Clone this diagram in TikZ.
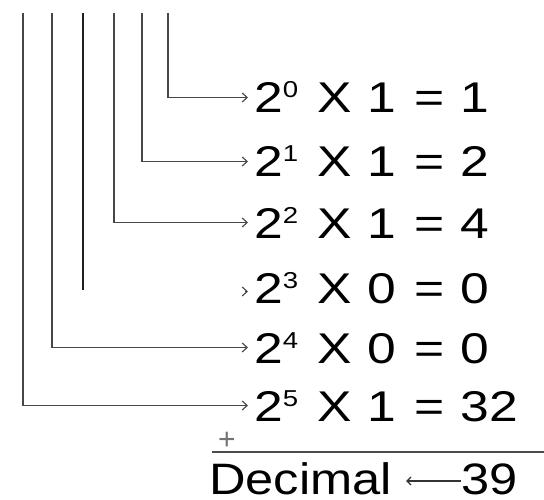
\documentclass[tikz,border=0pt]{standalone}
\usepackage{fontspec}
\setmainfont{Liberation Sans}
\newfontfamily\rowfont[FakeStretch=1.2]{Liberation Sans}
\newfontfamily\decfont[FakeStretch=1.15]{Liberation Sans}
\usetikzlibrary{arrows.meta}
\newcommand\prow[3]{2\raisebox{15pt}{\fontsize{23}{23}\selectfont #1}\hspace{19pt}X\hspace{16pt}#2\hspace{18pt}=\hspace{16pt}#3}
\begin{document}
\begin{tikzpicture}[x=1pt,y=-1pt,
  wire/.style={draw=black!72,line width=1.8pt},
  arr/.style={wire,-{Straight Barb[length=5pt,width=9pt,line width=1.1pt]}},
  rowtxt/.style={anchor=west,inner xsep=6pt,inner ysep=0pt,text height=31pt,text depth=0pt,
    font=\rowfont\fontsize{43}{43}\selectfont},
  dectxt/.style={anchor=base west,inner sep=0pt,text height=33pt,text depth=0pt,
    font=\decfont\fontsize{44}{44}\selectfont}
]
\useasboundingbox (0,0) rectangle (544,500);
% tops of the bit lines
\coordinate (t0) at (168,13);
\coordinate (t1) at (142,13);
\coordinate (t2) at (114,13);
\coordinate (t3) at (83,13);
\coordinate (t4) at (52,13);
\coordinate (t5) at (23,13);
\coordinate (b3) at (83,290);
% rows
\node[rowtxt] (r0) at (248,97.5)  {\prow{0}{1}{1}};
\node[rowtxt] (r1) at (248,161.5) {\prow{1}{1}{2}};
\node[rowtxt] (r2) at (248,222.5) {\prow{2}{1}{4}};
\node[rowtxt] (r3) at (248,287.5) {\prow{3}{0}{0}};
\node[rowtxt] (r4) at (248,347.5) {\prow{4}{0}{0}};
\node[rowtxt] (r5) at (248,405.5) {\prow{5}{1}{32}};
% connectors
\draw[arr] (t0) |- (r0.west);
\draw[arr] (t1) |- (r1.west);
\draw[arr] (t2) |- (r2.west);
\draw[wire,draw=black!88] (t3) -- (b3);
\draw[arr,line width=0.8pt] ([shift={(-3pt,-4pt)}]r3.west) -- ([yshift=-4pt]r3.west);
\draw[arr] (t4) |- (r4.west);
\draw[arr] (t5) |- (r5.west);
% sum line
\coordinate (s1) at (212,452);
\coordinate (s2) at (544,452);
\draw[draw=black!70,line width=1.3pt] (s1) -- (s2);
\node[inner sep=0pt,text=black!55,font=\fontsize{30}{30}\selectfont] (plus) at (227,441) {+};
% result
\node[dectxt] (dec) at (209,494) {Decimal};
\node[dectxt] (n39) at (461,494) {39};
\draw[draw=black!80,line width=1.2pt,-{Straight Barb[length=4pt,width=8pt]},shorten >=14pt]
  ([yshift=-3.5pt]n39.west) -- ([yshift=-3.5pt]dec.east);
\end{tikzpicture}
\end{document}
